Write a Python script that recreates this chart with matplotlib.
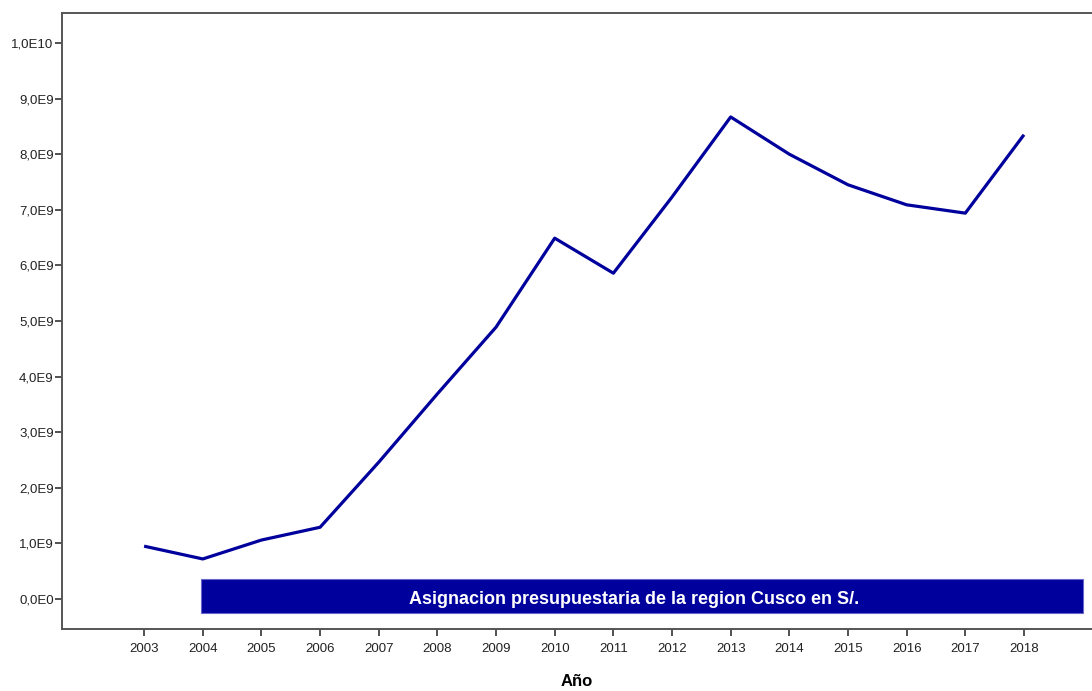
import matplotlib
matplotlib.use("Agg")
import matplotlib.pyplot as plt
import numpy as np
from matplotlib import patches
from matplotlib.ticker import FuncFormatter, MultipleLocator

years = [2003, 2004, 2005, 2006, 2007, 2008, 2009, 2010,
         2011, 2012, 2013, 2014, 2015, 2016, 2017, 2018]
budget = [0.95e9, 0.72e9, 1.06e9, 1.29e9, 2.46e9, 3.69e9, 4.89e9, 6.49e9,
          5.86e9, 7.23e9, 8.67e9, 8.00e9, 7.45e9, 7.09e9, 6.94e9, 8.35e9]
legend_label = "Asignacion presupuestaria de la region Cusco en S/."
x_label = "Año"

navy = "#00009c"
plt.rcParams['font.family'] = ['Liberation Sans', 'DejaVu Sans']

fig = plt.figure(figsize=(10.92, 6.91), dpi=100)
ax = fig.add_axes([62 / 1092, 62 / 691, 1 - 62 / 1092, 616 / 691])

ax.plot(years, budget, color=navy, linewidth=2.3, solid_capstyle="butt")

ax.set_xlim(2001.6, 2019.16)
ax.set_ylim(-0.54e9, 1.054e10)
ax.set_xticks(years)
ax.yaxis.set_major_locator(MultipleLocator(1e9))


def sci_comma(v, pos):
    if v == 0:
        return "0,0E0"
    e = int(np.floor(np.log10(abs(v)) + 1e-9))
    m = v / 10 ** e
    return f"{m:.1f}E{e}".replace(".", ",")


ax.yaxis.set_major_formatter(FuncFormatter(sci_comma))

for s in ["left", "bottom", "top"]:
    ax.spines[s].set_color("#555555")
    ax.spines[s].set_linewidth(1.4)
ax.spines["right"].set_visible(False)
ax.tick_params(axis="both", colors="#333333", labelcolor="#222222", labelsize=9.5,
               length=5, width=1.2, direction="out")
ax.tick_params(axis="x", pad=5)
ax.tick_params(axis="y", pad=1)

ax.set_xlabel(x_label, fontsize=12, fontweight="bold", labelpad=14)

# legend banner (SPSS style)
bx0, bw = (201 - 62) / 1030, (1083 - 201) / 1030
by0, bh = (629 - 613) / 616, 34 / 616
rect = patches.Rectangle((bx0, by0), bw, bh, transform=ax.transAxes,
                         facecolor=navy, edgecolor="#6666cc", linewidth=0.8, zorder=3)
ax.add_patch(rect)
ax.text((634 - 62) / 1030, by0 + bh / 2 - 4 / 616, legend_label, transform=ax.transAxes,
        ha="center", va="center", color="white", fontsize=13, fontweight="bold",
        zorder=4)

fig.savefig("out.png", dpi=100)
